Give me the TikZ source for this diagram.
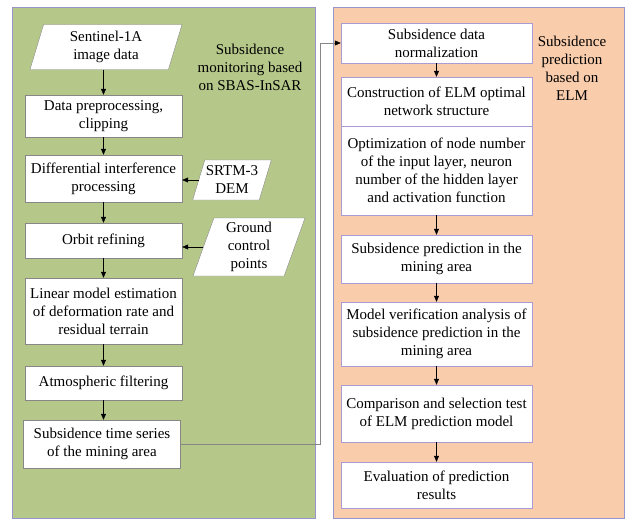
\documentclass[tikz,border=0pt]{standalone}
\usepackage{fontspec}
\setmainfont{Liberation Serif}
\usetikzlibrary{shapes.geometric}
\usetikzlibrary{arrows.meta}

\definecolor{panelgreen}{RGB}{181,200,138}
\definecolor{panelorange}{RGB}{249,204,172}
\definecolor{panelline}{RGB}{150,150,205}
\definecolor{boxgray}{RGB}{135,135,135}
\definecolor{boxpurple}{RGB}{170,155,210}

\tikzset{
  every node/.append style={font=\fontsize{15}{18}\selectfont},
  procbox/.style={draw=boxgray, fill=white, align=center, inner sep=0pt, minimum width=157pt},
  elmbox/.style={procbox, draw=boxpurple, minimum width=191pt},
  databox/.style={trapezium, trapezium left angle=68, trapezium right angle=112,
    trapezium stretches body, draw=boxgray, fill=white, align=center, inner sep=1pt},
  arr/.style={-{Triangle[length=6pt,width=5pt,color=black]}, line width=0.5pt},
}

\begin{document}
\begin{tikzpicture}[x=1pt, y=-1pt]
  \useasboundingbox (0,0) rectangle (626,520);
  % the two panels
  \filldraw[fill=panelgreen, draw=panelline] (12,7) rectangle (315,518);
  \filldraw[fill=panelorange, draw=panelline] (333,7) rectangle (624,518);

  % SBAS-InSAR side
  \node (montitle) [align=center] at (250,67) {Subsidence\\monitoring based\\on SBAS-InSAR};
  \node (sent) [databox, minimum width=152pt, minimum height=45pt] at (106,47) {Sentinel-1A\\image data};
  \node (prep) [procbox, minimum height=42pt] at (103.5,116) {Data preprocessing,\\clipping};
  \node (diff) [procbox, minimum height=47pt] at (103.5,178.5) {Differential interference\\processing};
  \node (srtm) [databox, minimum width=70pt, minimum height=40pt] at (232,180) {SRTM-3\\DEM};
  \node (orbit) [procbox, minimum height=35pt] at (103.5,240.5) {Orbit refining};
  \node (gcp) [databox, minimum width=112pt, minimum height=58pt] at (249,247) {Ground\\control\\points};
  \node (linear) [procbox, minimum height=66pt] at (103.5,311) {Linear model estimation\\of deformation rate and\\residual terrain};
  \node (atmo) [procbox, minimum height=34pt] at (103.5,383) {Atmospheric filtering};
  \node (ts) [procbox, minimum height=48pt] at (102,444) {Subsidence time series\\of the mining area};

  \draw[arr] (prep |- sent.south) -- (prep);
  \draw[arr] (prep) -- (diff);
  \draw[arr] (diff) -- (orbit);
  \draw[arr] (orbit) -- (linear);
  \draw[arr] (linear) -- (atmo);
  \draw[arr] (atmo) -- (atmo |- ts.north);
  \draw[arr] (srtm.west) -- (diff.east |- srtm.west);
  \draw[arr] (gcp.west) -- (orbit.east |- gcp.west);

  % ELM side
  \node (elmtitle) [align=center] at (572,68) {Subsidence\\prediction\\based on\\ELM};
  \node (norm) [elmbox, minimum height=40pt] at (436.5,43) {Subsidence data\\normalization};
  \node (cons) [elmbox, minimum height=49pt] at (436.5,101.5) {Construction of ELM optimal\\network structure};
  \node (opt) [elmbox, minimum height=89pt] at (436.5,170.5) {Optimization of node number\\of the input layer, neuron\\number of the hidden layer\\and activation function};
  \node (pred) [elmbox, minimum height=48pt] at (436.5,259) {Subsidence prediction in the\\mining area};
  \node (verif) [elmbox, minimum height=64pt] at (436.5,334) {Model verification analysis of\\subsidence prediction in the\\mining area};
  \node (comp) [elmbox, minimum height=57pt] at (436.5,413.5) {Comparison and selection test\\of ELM prediction model};
  \node (eval) [elmbox, minimum height=46pt] at (436.5,485) {Evaluation of prediction\\results};

  \draw[arr] (norm) -- (cons);
  \draw[arr] (opt) -- (pred);
  \draw[arr] (pred) -- (verif);
  \draw[arr] (verif) -- (comp);
  \draw[arr] (comp) -- (eval);

  % from the time series over to the prediction side
  \coordinate (bend) at (320,0);
  \draw[arr, draw=boxgray] (ts.east) -- (ts.east -| bend) |- (norm.west);
\end{tikzpicture}
\end{document}
